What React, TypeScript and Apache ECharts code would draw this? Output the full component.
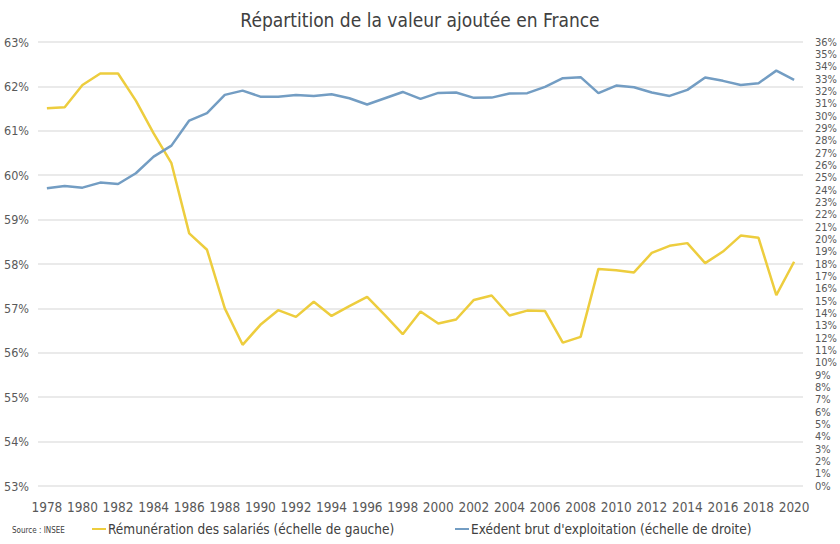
import React, { useEffect, useRef } from "react";
import * as echarts from "echarts";

const years: string[] = [];
for (let y = 1978; y <= 2020; y++) years.push(String(y));

const remuneration = [
  61.51, 61.53, 62.03, 62.29, 62.29, 61.68, 60.94, 60.27, 58.69, 58.32,
  57.0, 56.18, 56.63, 56.96, 56.81, 57.15, 56.83, 57.05, 57.26, 56.85,
  56.42, 56.93, 56.66, 56.75, 57.19, 57.29, 56.84, 56.95, 56.94, 56.23,
  56.36, 57.89, 57.86, 57.81, 58.25, 58.41, 58.47, 58.02, 58.28, 58.64,
  58.59, 57.3, 58.05,
];

const excedent = [
  24.14, 24.33, 24.19, 24.6, 24.49, 25.36, 26.71, 27.6, 29.63, 30.23,
  31.71, 32.06, 31.57, 31.57, 31.71, 31.63, 31.77, 31.44, 30.93, 31.44,
  31.95, 31.39, 31.87, 31.9, 31.47, 31.49, 31.82, 31.85, 32.36, 33.07,
  33.15, 31.85, 32.47, 32.33, 31.9, 31.63, 32.12, 33.12, 32.85, 32.52,
  32.66, 33.68, 32.93,
];

const title = "Répartition de la valeur ajoutée en France";
const nameRem = "Rémunération des salariés (échelle de gauche)";
const nameExc = "Exédent brut d'exploitation (échelle de droite)";
const source = "Source : INSEE";

const FONT = "'DejaVu Sans Condensed', 'Liberation Sans', sans-serif";
const YELLOW = "#EDCD3E";
const BLUE = "#739DC3";
const TEXT = "#595959";

export default function App() {
  const ref = useRef<HTMLDivElement>(null);
  useEffect(() => {
    if (!ref.current) return;
    const chart = echarts.init(ref.current, undefined, { renderer: "svg" });
    chart.setOption({
      animation: false,
      backgroundColor: "#ffffff",
      textStyle: { fontFamily: FONT },
      title: {
        text: title,
        left: "center",
        top: 5,
        textStyle: { fontFamily: FONT, fontSize: 19, fontWeight: "normal", color: "#404040" },
      },
      grid: { left: 38, right: 37, top: 42, bottom: 58, containLabel: false },
      legend: [
        {
          data: [nameRem],
          left: 92,
          top: 522,
          icon: "rect",
          itemWidth: 14,
          itemHeight: 2,
          itemGap: 2,
          padding: 0,
          textStyle: { fontFamily: FONT, fontSize: 13.5, color: "#404040", padding: [0, 0, 0, -3] },
        },
        {
          data: [nameExc],
          left: 455,
          top: 522,
          icon: "rect",
          itemWidth: 14,
          itemHeight: 2,
          padding: 0,
          textStyle: { fontFamily: FONT, fontSize: 13.5, color: "#404040", padding: [0, 0, 0, -3] },
        },
      ],
      graphic: [
        {
          type: "text",
          left: 12,
          top: 526,
          style: { text: source, fontFamily: FONT, fontSize: 8, fill: "#404040" },
        },
      ],
      xAxis: {
        type: "category",
        data: years,
        boundaryGap: true,
        axisLine: { show: false },
        axisTick: { show: false },
        axisLabel: { interval: 1, fontSize: 13.5, color: TEXT, margin: 14, fontFamily: FONT },
        splitLine: { show: false },
      },
      yAxis: [
        {
          type: "value",
          min: 53,
          max: 63,
          interval: 1,
          position: "left",
          axisLine: { show: false },
          axisTick: { show: false },
          axisLabel: { formatter: "{value}%", fontSize: 12.5, color: TEXT, margin: 9, fontFamily: FONT },
          splitLine: { show: true, lineStyle: { color: "#e3e3e3", width: 1.5 } },
        },
        {
          type: "value",
          min: 0,
          max: 36,
          interval: 1,
          position: "right",
          axisLine: { show: false },
          axisTick: { show: false },
          axisLabel: { formatter: "{value}%", fontSize: 11, color: TEXT, margin: 12, fontFamily: FONT },
          splitLine: { show: false },
        },
      ],
      series: [
        {
          name: nameRem,
          type: "line",
          yAxisIndex: 0,
          data: remuneration,
          showSymbol: false,
          symbol: "none",
          lineStyle: { color: YELLOW, width: 2.5 },
          itemStyle: { color: YELLOW },
        },
        {
          name: nameExc,
          type: "line",
          yAxisIndex: 1,
          data: excedent,
          showSymbol: false,
          symbol: "none",
          lineStyle: { color: BLUE, width: 2.5 },
          itemStyle: { color: BLUE },
        },
      ],
    });
    return () => chart.dispose();
  }, []);
  return (
    <div
      ref={ref}
      style={{ position: "absolute", left: 0, top: 0, width: 840, height: 544 }}
    />
  );
}
